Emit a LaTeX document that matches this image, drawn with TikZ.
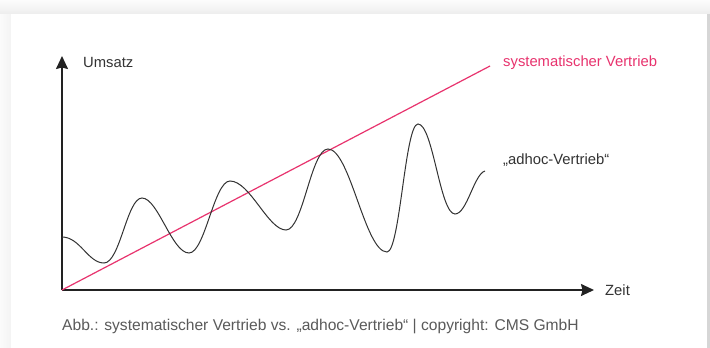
\documentclass[tikz,border=0pt]{standalone}
\usepackage{fontspec}
\setmainfont{Liberation Sans}
\usetikzlibrary{arrows.meta}
\definecolor{pinkline}{HTML}{E8336E}
\definecolor{axisgray}{HTML}{222222}
\definecolor{wavegray}{HTML}{333333}
\definecolor{labelgray}{HTML}{333333}
\definecolor{captiongray}{HTML}{5A5A5A}
\tikzset{
  axis/.style={draw=axisgray, line width=1.6pt, -{Stealth[length=13pt,width=12pt,inset=1.5pt]}},
  trend/.style={draw=pinkline, line width=1.2pt},
  wave/.style={draw=wavegray, line width=1pt},
  lbl/.style={font=\fontsize{14.8}{17}\selectfont, text=labelgray, inner sep=0pt, anchor=west},
  captionlbl/.style={font=\fontsize{15.6}{18}\selectfont, text=captiongray, inner sep=0pt, anchor=west},
}
\begin{document}
\begin{tikzpicture}[x=1pt,y=-1pt]
  % page background with soft card shadow
  \fill[gray!6] (0,0) rectangle (710,348);
  \shade[top color=gray!2, bottom color=gray!14] (0,0) rectangle (710,14);
  \shade[left color=gray!3, right color=gray!9] (0,14) rectangle (11,348);
  \fill[gray!32] (707,14) rectangle (710,348);
  \fill[white] (11,14) rectangle (707,348);
  \useasboundingbox (0,0) rectangle (710,348);

  % axes
  \coordinate (O) at (62,290);
  \coordinate (ytop) at (62,56);
  \coordinate (xend) at (594,290);
  \draw[axis] (O) -- (ytop);
  \draw[axis] (O) -- (xend);
  \node[lbl] (umsatz) at (83,62) {Umsatz};
  \node[lbl] (zeit) at (605,290) {Zeit};

  % systematic sales: straight growth line
  \coordinate (trendend) at (490,66);
  \draw[trend] (O) -- (trendend);
  \node[lbl, text=pinkline] (syslbl) at (503,63) {systematischer Vertrieb};

  % ad hoc sales: oscillating curve
  \draw[wave] (62,237)
    .. controls (80,237) and (88,263) .. (104,263)
    .. controls (120,263) and (127,198) .. (142,198)
    .. controls (158,198) and (172,253) .. (189,253)
    .. controls (205,253) and (214,181) .. (230,181)
    .. controls (250,181) and (268,230) .. (286,230)
    .. controls (303,230) and (311,149) .. (328,149)
    .. controls (350,149) and (365,252) .. (387,252)
    .. controls (400,252) and (405,124) .. (418,124)
    .. controls (433,124) and (440,214) .. (455,214)
    .. controls (467,214) and (474,174) .. (485,171);
  \node[lbl] (adhoclbl) at (503,160) {„adhoc-Vertrieb“};

  % caption
  \node[captionlbl] (caption) at (62,326)
    {Abb.: systematischer Vertrieb vs. „adhoc-Vertrieb“ | copyright: CMS GmbH};
\end{tikzpicture}
\end{document}
